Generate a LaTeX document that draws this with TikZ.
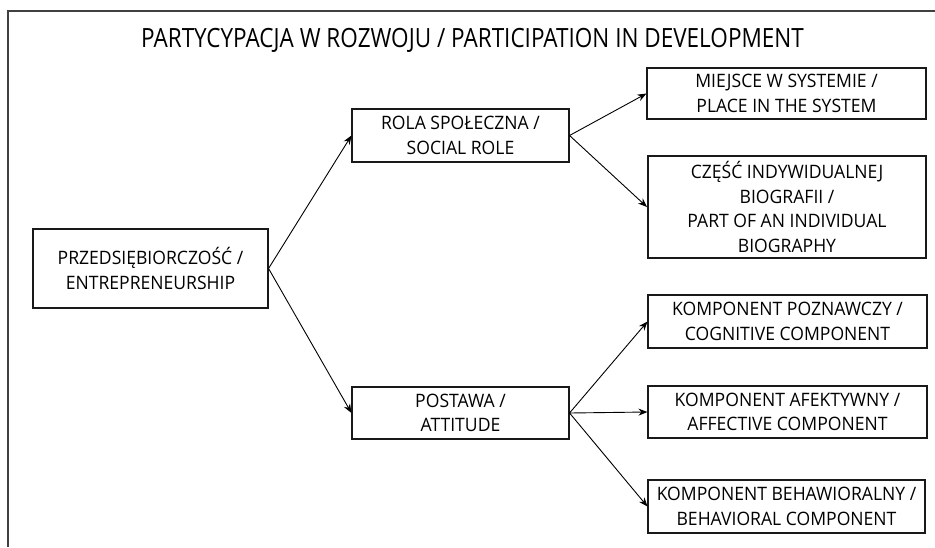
\documentclass[tikz,border=0pt]{standalone}
\usepackage{fontspec}
\setmainfont[FakeStretch=0.95]{Open Sans}
\newfontfamily\titlefont[FakeStretch=0.85]{Open Sans}
\usetikzlibrary{arrows.meta}
\begin{document}
\begin{tikzpicture}[x=1pt,y=-1pt,
  box/.style={draw=black!90, line width=1.1pt, rectangle, align=center, inner sep=0pt,
    font=\fontsize{18.5}{24.5}\selectfont, text=black},
  thickbox/.style={box, line width=2pt},
  conn/.style={line width=0.9pt, -{Stealth[length=9pt,width=7pt]}},
]
\useasboundingbox (0,0) rectangle (935,547);
\draw[line width=2pt, black!75] (8,547) -- (8,11) -- (935,11);
\node[anchor=base, font=\titlefont\fontsize{26.5}{30}\selectfont, text=black] (title) at (472.5,47)
  {PARTYCYPACJA W ROZWOJU / PARTICIPATION IN DEVELOPMENT};
\node[box, minimum width=235pt, minimum height=79pt] (A) at (150.5,268.5)
  {PRZEDSIĘBIORCZOŚĆ /\\ENTREPRENEURSHIP};
\node[box, minimum width=217pt, minimum height=53pt] (B) at (460.5,135.5)
  {ROLA SPOŁECZNA /\\SOCIAL ROLE};
\node[box, minimum width=279pt, minimum height=51pt] (C) at (786.5,93.5)
  {MIEJSCE W SYSTEMIE /\\PLACE IN THE SYSTEM};
\node[thickbox, minimum width=278pt, minimum height=102pt] (D) at (787,207)
  {CZĘŚĆ INDYWIDUALNEJ\\BIOGRAFII /\\PART OF AN INDIVIDUAL\\BIOGRAPHY};
\node[box, minimum width=217pt, minimum height=52pt] (E) at (460.5,413)
  {POSTAWA /\\ATTITUDE};
\node[box, minimum width=279pt, minimum height=53pt] (F) at (787.5,321.5)
  {KOMPONENT POZNAWCZY /\\COGNITIVE COMPONENT};
\node[box, minimum width=279pt, minimum height=52pt] (G) at (787.5,412)
  {KOMPONENT AFEKTYWNY /\\AFFECTIVE COMPONENT};
\node[box, minimum width=277pt, minimum height=53pt] (H) at (786.5,506.5)
  {KOMPONENT BEHAWIORALNY /\\BEHAVIORAL COMPONENT};
\draw[conn] (A.east) -- (B.west);
\draw[conn] (A.east) -- (E.west);
\draw[conn] (B.east) -- (C.west);
\draw[conn] (B.east) -- (D.west);
\draw[conn] (E.east) -- (F.west);
\draw[conn] (E.east) -- (G.west);
\draw[conn] (E.east) -- (H.west);
\end{tikzpicture}
\end{document}
